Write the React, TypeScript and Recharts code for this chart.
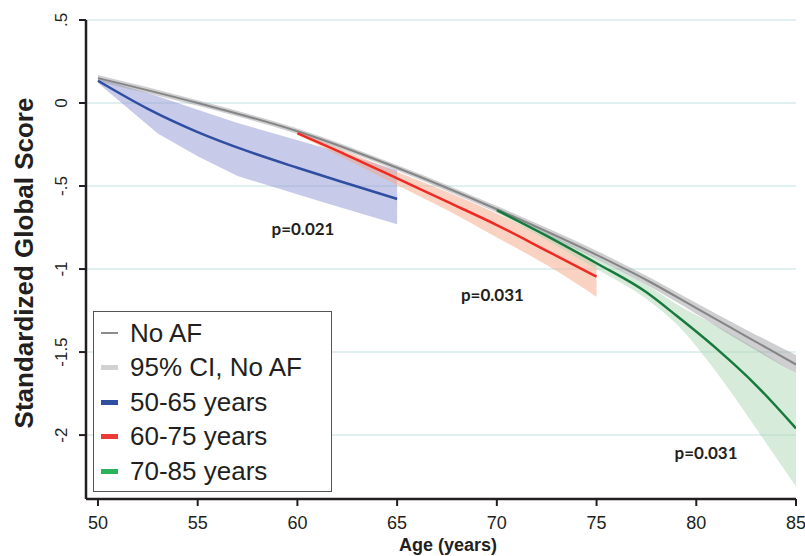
import React from 'react'
import {
  ComposedChart,
  Line,
  Area,
  XAxis,
  YAxis,
  CartesianGrid,
  ReferenceDot,
  Legend,
  Label,
} from 'recharts'

// No AF reference curve + 95% CI
const noAfAges = [50, 55, 60, 65, 70, 75, 77.5, 80, 82.5, 85]
const noAfMean = [0.15, 0.0, -0.17, -0.39, -0.64, -0.915, -1.066, -1.235, -1.405, -1.575]
const noAfLow = [0.13, -0.017, -0.187, -0.407, -0.66, -0.94, -1.095, -1.27, -1.455, -1.628]
const noAfHigh = [0.168, 0.016, -0.153, -0.373, -0.62, -0.89, -1.04, -1.205, -1.365, -1.518]

// AF onset 50-65
const blueAges = [50, 52.5, 55, 57.5, 60, 62.5, 65]
const blueMean = [0.134, -0.035, -0.175, -0.29, -0.39, -0.485, -0.578]
const blueBandAges = [50, 53, 55, 57, 61.5, 65]
const blueLow = [0.12, -0.183, -0.32, -0.44, -0.605, -0.73]
const blueHigh = [0.15, 0.04, -0.04, -0.12, -0.275, -0.405]

// AF onset 60-75
const redAges = [60, 62.5, 65, 67.5, 70, 72.5, 75]
const redMean = [-0.183, -0.315, -0.454, -0.594, -0.735, -0.89, -1.046]
const redBandAges = [60, 65, 67.5, 70, 72.5, 75]
const redLow = [-0.19, -0.494, -0.645, -0.81, -0.976, -1.167]
const redHigh = [-0.17, -0.415, -0.535, -0.665, -0.81, -0.96]

// AF onset 70-85
const greenAges = [70, 72.5, 75, 77.5, 79, 81, 83, 85]
const greenMean = [-0.645, -0.8, -0.965, -1.14, -1.28, -1.478, -1.7, -1.96]
const greenLow = [-0.66, -0.825, -1.0, -1.18, -1.33, -1.62, -1.96, -2.31]
const greenHigh = [-0.63, -0.78, -0.935, -1.095, -1.21, -1.34, -1.48, -1.63]

const xTicks = [50, 55, 60, 65, 70, 75, 80, 85]
const yTicks = [0.5, 0, -0.5, -1, -1.5, -2]

const pLabels = ['p=0.021', 'p=0.031', 'p=0.031']
const pAges = [60.28, 69.78, 80.49]
const pValues = [-0.759, -1.157, -2.108]

const legendLabels = ['No AF', '95% CI, No AF', '50-65 years', '60-75 years', '70-85 years']
const legendColors = ['#8c8c8c', '#d2d2d4', '#2f4ea1', '#ee3a36', '#2ab25c']
const legendThickness = [2, 5, 5, 5, 5]

const line = (ages: number[], vals: number[]) => ages.map((age, i) => ({ age, v: vals[i] }))
const band = (ages: number[], lo: number[], hi: number[]) =>
  ages.map((age, i) => ({ age, range: [lo[i], hi[i]] }))

const INK = '#231f20'
const SANS = "'Liberation Sans', Arial, sans-serif"

const fmtY = (v: number) => (v === 0 ? '0' : String(v).replace('0.', '.'))

const YTick = (props: any) => {
  const { x, y, payload } = props
  const bx = x - 10
  return (
    <text
      x={bx}
      y={y}
      transform={`rotate(-90 ${bx} ${y})`}
      textAnchor="middle"
      fontSize={17}
      fontFamily={SANS}
      fill={INK}
    >
      {fmtY(payload.value)}
    </text>
  )
}

const renderLegend = () => (
  <div
    style={{
      position: 'relative',
      width: 239,
      height: 181,
      border: '1.5px solid #555',
      background: '#fff',
      boxSizing: 'border-box',
      fontFamily: SANS,
      fontSize: 26,
      color: INK,
    }}
  >
    {legendLabels.map((lab, i) => (
      <div
        key={lab}
        style={{
          position: 'absolute',
          left: 0,
          top: 21 + i * 34.6 - 17,
          height: 34,
          display: 'flex',
          alignItems: 'center',
          whiteSpace: 'nowrap',
        }}
      >
        <span
          style={{
            display: 'inline-block',
            marginLeft: 7,
            width: 17,
            height: legendThickness[i],
            background: legendColors[i],
          }}
        />
        <span style={{ marginLeft: 12 }}>{lab}</span>
      </div>
    ))}
  </div>
)

export default function App() {
  return (
    <div style={{ position: 'absolute', left: 0, top: 0, background: '#fff' }}>
      <ComposedChart width={805} height={556} margin={{ top: 20, right: 9, bottom: 0, left: 0 }}>
        <CartesianGrid vertical={false} stroke="#d6ebeb" strokeWidth={1.5} />
        <XAxis
          type="number"
          dataKey="age"
          domain={[49.4, 85]}
          ticks={xTicks}
          allowDataOverflow
          height={57}
          tickSize={7}
          tickMargin={10}
          axisLine={{ stroke: INK, strokeWidth: 2.5 }}
          tickLine={{ stroke: INK, strokeWidth: 2 }}
          tick={{ fontSize: 18, fill: INK, fontFamily: SANS }}
        >
          <Label
            content={() => (
              <text x={448} y={551} textAnchor="middle" fontSize={18} fontWeight="bold" fontFamily={SANS} fill={INK}>
                Age (years)
              </text>
            )}
          />
        </XAxis>
        <YAxis
          type="number"
          domain={[-2.385, 0.5]}
          ticks={yTicks}
          allowDataOverflow
          width={86}
          tickSize={7}
          axisLine={{ stroke: INK, strokeWidth: 2.5 }}
          tickLine={{ stroke: INK, strokeWidth: 2 }}
          tick={<YTick />}
        >
          <Label
            content={() => (
              <text
                x={33}
                y={263}
                transform="rotate(-90 33 263)"
                textAnchor="middle"
                fontSize={26}
                fontWeight="bold"
                fontFamily={SANS}
                fill={INK}
              >
                Standardized Global Score
              </text>
            )}
          />
        </YAxis>

        <Area
          data={band(blueBandAges, blueLow, blueHigh)}
          dataKey="range"
          type="linear"
          stroke="none"
          fill="#8f95d2"
          fillOpacity={0.5}
          isAnimationActive={false}
        />
        <Area
          data={band(redBandAges, redLow, redHigh)}
          dataKey="range"
          type="monotone"
          stroke="none"
          fill="#f5a585"
          fillOpacity={0.5}
          isAnimationActive={false}
        />
        <Area
          data={band(greenAges, greenLow, greenHigh)}
          dataKey="range"
          type="monotone"
          stroke="none"
          fill="#aed7b4"
          fillOpacity={0.5}
          isAnimationActive={false}
        />
        <Area
          data={band(noAfAges, noAfLow, noAfHigh)}
          dataKey="range"
          type="monotone"
          stroke="none"
          fill="#a0a0a5"
          fillOpacity={0.5}
          isAnimationActive={false}
        />

        <Line data={line(noAfAges, noAfMean)} dataKey="v" type="monotone" stroke="#858585" strokeWidth={2} dot={false} isAnimationActive={false} />
        <Line data={line(blueAges, blueMean)} dataKey="v" type="monotone" stroke="#2f4ea1" strokeWidth={2.5} dot={false} isAnimationActive={false} />
        <Line data={line(redAges, redMean)} dataKey="v" type="monotone" stroke="#ee2a24" strokeWidth={2.5} dot={false} isAnimationActive={false} />
        <Line data={line(greenAges, greenMean)} dataKey="v" type="monotone" stroke="#177a3c" strokeWidth={2.5} dot={false} isAnimationActive={false} />

        {pLabels.map((p, i) => (
          <ReferenceDot
            key={i}
            x={pAges[i]}
            y={pValues[i]}
            r={0}
            stroke="none"
            fill="none"
            label={{
              value: p,
              position: 'center',
              fontSize: 17,
              fontWeight: 'bold',
              fontFamily: 'Lato, sans-serif',
              fill: INK,
            }}
          />
        ))}

        <Legend
          layout="vertical"
          align="center"
          verticalAlign="middle"
          content={renderLegend}
          wrapperStyle={{ left: 93, top: 311, width: 239, height: 181 }}
        />
      </ComposedChart>
    </div>
  )
}
